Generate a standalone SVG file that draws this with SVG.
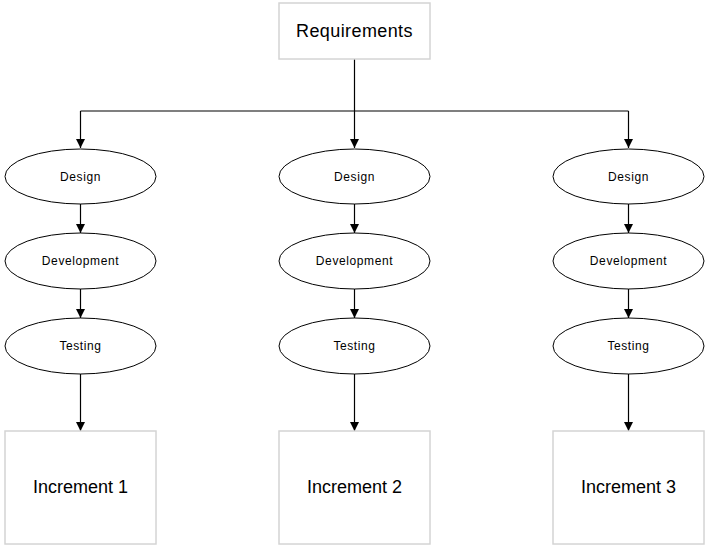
<svg xmlns="http://www.w3.org/2000/svg" width="710" height="552" viewBox="0 0 710 552">
<style>
.box{fill:#fff;stroke:#d4d4d4;stroke-width:1.5}
.ell{fill:#fff;stroke:#000;stroke-width:1}
.con{fill:none;stroke:#000;stroke-width:1.2}
.big{font-family:"Liberation Sans",Arial,sans-serif;font-size:18px;fill:#000;text-anchor:middle;dominant-baseline:central}
.sm{font-family:"Liberation Sans",Arial,sans-serif;font-size:12px;letter-spacing:0.6px;fill:#000;text-anchor:middle;dominant-baseline:central}
</style>
<defs>
<marker id="arr" viewBox="0 0 10 10" refX="10" refY="5" markerWidth="9" markerHeight="11" markerUnits="userSpaceOnUse" orient="auto">
<path d="M0,0 L10,5 L0,10 z" fill="#000"/>
</marker>
</defs>
<rect width="710" height="552" fill="#fff"/>
<g id="connectors">
<path class="con" d="M354.5,59 V111 M80.5,111 H628.5"/>
<path class="con" d="M80.5,111 V148" marker-end="url(#arr)"/>
<path class="con" d="M354.5,111 V148" marker-end="url(#arr)"/>
<path class="con" d="M628.5,111 V148" marker-end="url(#arr)"/>
<path class="con" d="M80.5,204 V233" marker-end="url(#arr)"/>
<path class="con" d="M354.5,204 V233" marker-end="url(#arr)"/>
<path class="con" d="M628.5,204 V233" marker-end="url(#arr)"/>
<path class="con" d="M80.5,289 V318" marker-end="url(#arr)"/>
<path class="con" d="M354.5,289 V318" marker-end="url(#arr)"/>
<path class="con" d="M628.5,289 V318" marker-end="url(#arr)"/>
<path class="con" d="M80.5,374 V431" marker-end="url(#arr)"/>
<path class="con" d="M354.5,374 V431" marker-end="url(#arr)"/>
<path class="con" d="M628.5,374 V431" marker-end="url(#arr)"/>
</g>
<g id="requirements"><rect class="box" x="279" y="3" width="151" height="56"/><text class="big" x="354.5" y="31" style="letter-spacing:0.4px">Requirements</text></g>
<g id="design1"><ellipse class="ell" cx="80.5" cy="176.5" rx="75.5" ry="27.5"/><text class="sm" x="80.5" y="176.5">Design</text></g>
<g id="dev1"><ellipse class="ell" cx="80.5" cy="261" rx="75.5" ry="28"/><text class="sm" x="80.5" y="261">Development</text></g>
<g id="test1"><ellipse class="ell" cx="80.5" cy="346" rx="75.5" ry="28"/><text class="sm" x="80.5" y="346">Testing</text></g>
<g id="inc1"><rect class="box" x="5" y="431" width="151" height="113"/><text class="big" x="80.5" y="487">Increment 1</text></g>
<g id="design2"><ellipse class="ell" cx="354.5" cy="176.5" rx="75.5" ry="27.5"/><text class="sm" x="354.5" y="176.5">Design</text></g>
<g id="dev2"><ellipse class="ell" cx="354.5" cy="261" rx="75.5" ry="28"/><text class="sm" x="354.5" y="261">Development</text></g>
<g id="test2"><ellipse class="ell" cx="354.5" cy="346" rx="75.5" ry="28"/><text class="sm" x="354.5" y="346">Testing</text></g>
<g id="inc2"><rect class="box" x="279" y="431" width="151" height="113"/><text class="big" x="354.5" y="487">Increment 2</text></g>
<g id="design3"><ellipse class="ell" cx="628.5" cy="176.5" rx="75.5" ry="27.5"/><text class="sm" x="628.5" y="176.5">Design</text></g>
<g id="dev3"><ellipse class="ell" cx="628.5" cy="261" rx="75.5" ry="28"/><text class="sm" x="628.5" y="261">Development</text></g>
<g id="test3"><ellipse class="ell" cx="628.5" cy="346" rx="75.5" ry="28"/><text class="sm" x="628.5" y="346">Testing</text></g>
<g id="inc3"><rect class="box" x="553" y="431" width="151" height="113"/><text class="big" x="628.5" y="487">Increment 3</text></g>
</svg>
